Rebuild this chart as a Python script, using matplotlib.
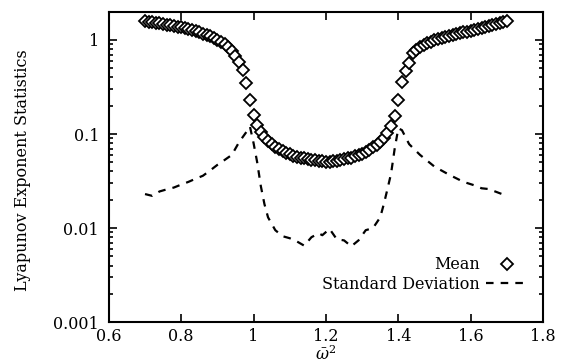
import numpy as np
import matplotlib
matplotlib.use("Agg")
import matplotlib.pyplot as plt
from matplotlib.ticker import LogLocator, NullFormatter, FixedLocator

# mean Lyapunov exponent, one point every 0.01 from 0.70 to 1.70
mean_x = np.round(np.arange(70, 171) / 100.0, 2)
mean_y = [
    1.58, 1.56, 1.54, 1.52, 1.50, 1.48, 1.46, 1.44, 1.41, 1.39,
    1.36, 1.33, 1.30, 1.27, 1.24, 1.21, 1.17, 1.13, 1.09, 1.05,
    1.01, 0.96, 0.90, 0.84, 0.76, 0.68, 0.58, 0.48, 0.35, 0.23,
    0.16, 0.125, 0.104, 0.092, 0.084, 0.078, 0.073, 0.069, 0.066, 0.063,
    0.061, 0.059, 0.057, 0.056, 0.055, 0.054, 0.053, 0.053, 0.052, 0.052,
    0.051, 0.051, 0.052, 0.052, 0.053, 0.054, 0.055, 0.056, 0.058, 0.060,
    0.062, 0.065, 0.068, 0.072, 0.077, 0.083, 0.091, 0.103, 0.122, 0.155,
    0.23, 0.36, 0.47, 0.57, 0.72, 0.79, 0.84, 0.89, 0.93, 0.96,
    0.99, 1.02, 1.05, 1.08, 1.11, 1.14, 1.17, 1.19, 1.21, 1.23,
    1.25, 1.28, 1.31, 1.34, 1.38, 1.41, 1.45, 1.48, 1.52, 1.55,
    1.59,
]

# standard deviation
std_x = [0.70, 0.72, 0.74, 0.76, 0.78, 0.80, 0.82, 0.84, 0.86, 0.88,
         0.90, 0.92, 0.94, 0.96, 0.98, 0.99, 1.00, 1.01, 1.02, 1.03,
         1.04, 1.06, 1.08, 1.10, 1.12, 1.14, 1.16, 1.18, 1.19, 1.21,
         1.23, 1.25, 1.27, 1.29, 1.31, 1.33, 1.35, 1.36, 1.37, 1.38,
         1.39, 1.40, 1.41, 1.43, 1.46, 1.50, 1.54, 1.58, 1.61, 1.63,
         1.65, 1.68, 1.70]
std_y = [0.0230, 0.0220, 0.0245, 0.0258, 0.0270, 0.0290, 0.0310, 0.0335, 0.0360, 0.0410,
         0.0470, 0.0530, 0.0600, 0.0820, 0.1050, 0.1200, 0.0800, 0.0500, 0.0280, 0.0180,
         0.0130, 0.0095, 0.0082, 0.0078, 0.0072, 0.0065, 0.0080, 0.0088, 0.0084, 0.0098,
         0.0076, 0.0074, 0.0064, 0.0074, 0.0095, 0.0100, 0.0130, 0.0180, 0.0260, 0.0380,
         0.0700, 0.1150, 0.1100, 0.0780, 0.0600, 0.0450, 0.0370, 0.0310, 0.0285, 0.0265,
         0.0260, 0.0235, 0.0220]

plt.rcParams['font.family'] = ['DejaVu Serif']
plt.rcParams['mathtext.fontset'] = 'dejavuserif'

fig = plt.figure(figsize=(5.61, 3.64), dpi=100)
ax = fig.add_axes([0.194, 0.115, 0.774, 0.853])

ax.plot(mean_x, mean_y, linestyle='none', marker='D', markersize=6.3,
        markerfacecolor='white', markeredgecolor='black', markeredgewidth=1.3,
        label='Mean')
ax.plot(std_x, std_y, color='black', linewidth=1.6, dashes=(3.4, 3.2),
        label='Standard Deviation')

ax.set_yscale('log')
ax.set_xlim(0.6, 1.8)
ax.set_ylim(0.001, 2.0)
ax.xaxis.set_major_locator(FixedLocator([0.6, 0.8, 1.0, 1.2, 1.4, 1.6, 1.8]))
ax.set_xticklabels(['0.6', '0.8', '1', '1.2', '1.4', '1.6', '1.8'])
ax.yaxis.set_major_locator(FixedLocator([0.001, 0.01, 0.1, 1]))
ax.set_yticklabels(['0.001', '0.01', '0.1', '1'])
ax.yaxis.set_minor_locator(LogLocator(base=10, subs=np.arange(2, 10)))
ax.yaxis.set_minor_formatter(NullFormatter())

ax.tick_params(which='both', direction='in', top=True, right=True,
               labelsize=11.5, width=1.2)
ax.tick_params(which='major', length=6)
ax.tick_params(which='minor', length=3)
ax.tick_params(axis='y', which='major', pad=7)
ax.tick_params(axis='x', which='major', pad=4)
for s in ax.spines.values():
    s.set_linewidth(1.5)

ax.set_xlabel(r'$\bar{\omega}^2$', fontsize=11.5)
ax.xaxis.set_label_coords(0.5, -0.075)
ax.set_ylabel('Lyapunov Exponent Statistics', fontsize=11.5)
ax.yaxis.set_label_coords(-0.18, 0.49)

ax.legend(loc='lower right', bbox_to_anchor=(0.965, 0.095), frameon=False,
          markerfirst=False, fontsize=11.5, handlelength=2.6, handletextpad=0.4,
          labelspacing=0.15, borderaxespad=0.0, borderpad=0.0)

plt.savefig('out.png', dpi=100)
